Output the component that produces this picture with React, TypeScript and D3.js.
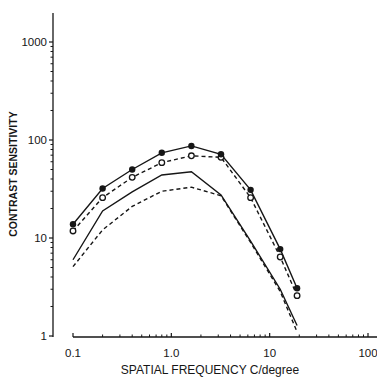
import React from "react";
import * as d3 from "d3";

// spatial frequencies (c/deg) at which sensitivity was measured
const freqs = [0.1, 0.2, 0.4, 0.8, 1.6, 3.2, 6.4, 12.8, 19];

// filled circles, solid line
const filledSeries = [13.8, 32, 50, 74, 87, 71.5, 31, 7.7, 3.07];
// open circles, dashed line
const openSeries = [11.8, 25.8, 41.6, 58.7, 69, 66.5, 25.8, 6.4, 2.58];
// plain solid curve
const solidCurve = [6.0, 18.9, 29.5, 44, 47.5, 27.5, 9.3, 3.0, 1.28];
// plain dashed curve
const dashedCurve = [5.1, 12.1, 21, 30, 33, 27, 9.0, 2.85, 1.1];

const xTicks = [0.1, 1, 10, 100];
const xTickLabels = ["0.1", "1.0", "10", "100"];
const yTicks = [1, 10, 100, 1000];
const yTickLabels = ["1", "10", "100", "1000"];

const W = 377;
const H = 378;
const INK = "#161616";
const FONT = "'Liberation Sans', Arial, Helvetica, sans-serif";

export default function App() {
  const x = d3.scaleLog().domain([0.1, 100]).range([73, 368]);
  const y = d3.scaleLog().domain([1, 1000]).range([336, 42]);
  const axisX = 53;
  const axisY = 337;

  const line = d3
    .line<[number, number]>()
    .x((d) => x(d[0]))
    .y((d) => y(d[1]));

  const pts = (vals: number[]) => freqs.map((f, i) => [f, vals[i]] as [number, number]);

  // minor ticks 2..9 in each decade
  const minors = (lo: number, hi: number) => {
    const out: number[] = [];
    for (let p = lo; p < hi; p *= 10) {
      for (let k = 2; k <= 9; k++) out.push(p * k);
    }
    return out;
  };
  const yMinor = minors(1, 1000);
  const xMinor = minors(0.1, 100);

  return (
    <svg
      width={W}
      height={H}
      style={{ position: "absolute", left: 0, top: 0, background: "#fff" }}
    >
      {/* y axis */}
      <line x1={axisX} x2={axisX} y1={13} y2={axisY} stroke={INK} strokeWidth={1.3} />
      {yTicks.map((t, i) => (
        <g key={"yt" + t}>
          <line x1={axisX - 4} x2={axisX} y1={y(t)} y2={y(t)} stroke={INK} strokeWidth={1.2} />
          <text
            x={axisX - 6}
            y={y(t)}
            dy="0.35em"
            textAnchor="end"
            fontFamily={FONT}
            fontSize={11.5}
            fill={INK}
          >
            {yTickLabels[i]}
          </text>
        </g>
      ))}
      {yMinor.map((t) => (
        <line
          key={"ym" + t}
          x1={axisX - 2.5}
          x2={axisX}
          y1={y(t)}
          y2={y(t)}
          stroke={INK}
          strokeWidth={1}
        />
      ))}

      {/* x axis */}
      <line x1={x(0.1)} x2={W} y1={axisY} y2={axisY} stroke={INK} strokeWidth={1.3} />
      {xTicks.map((t, i) => (
        <g key={"xt" + t}>
          <line x1={x(t)} x2={x(t)} y1={axisY - 4} y2={axisY} stroke={INK} strokeWidth={1.2} />
          <text
            x={x(t)}
            y={axisY + 20}
            textAnchor="middle"
            fontFamily={FONT}
            fontSize={11.5}
            fill={INK}
          >
            {xTickLabels[i]}
          </text>
        </g>
      ))}
      {xMinor.map((t) => (
        <line
          key={"xm" + t}
          x1={x(t)}
          x2={x(t)}
          y1={axisY - 2.5}
          y2={axisY}
          stroke={INK}
          strokeWidth={1}
        />
      ))}

      {/* axis titles */}
      <text
        x={210}
        y={374}
        textAnchor="middle"
        fontFamily={FONT}
        fontSize={12}
        fill={INK}
      >
        SPATIAL FREQUENCY C/degree
      </text>
      <text
        transform="translate(17,174) rotate(-90)"
        textAnchor="middle"
        fontFamily={FONT}
        fontSize={10.5}
        fontWeight="bold"
        fill={INK}
      >
        CONTRAST SENSITIVITY
      </text>

      {/* curves */}
      <path d={line(pts(solidCurve)) || ""} fill="none" stroke={INK} strokeWidth={1.4} />
      <path
        d={line(pts(dashedCurve)) || ""}
        fill="none"
        stroke={INK}
        strokeWidth={1.4}
        strokeDasharray="4,3"
      />
      <path d={line(pts(filledSeries)) || ""} fill="none" stroke={INK} strokeWidth={1.4} />
      <path
        d={line(pts(openSeries)) || ""}
        fill="none"
        stroke={INK}
        strokeWidth={1.4}
        strokeDasharray="4,3"
      />

      {/* markers */}
      {pts(openSeries).map((d, i) => (
        <circle key={"o" + i} cx={x(d[0])} cy={y(d[1])} r={2.8} fill="#fff" stroke={INK} strokeWidth={1.3} />
      ))}
      {pts(filledSeries).map((d, i) => (
        <circle key={"f" + i} cx={x(d[0])} cy={y(d[1])} r={3.2} fill={INK} />
      ))}
    </svg>
  );
}
